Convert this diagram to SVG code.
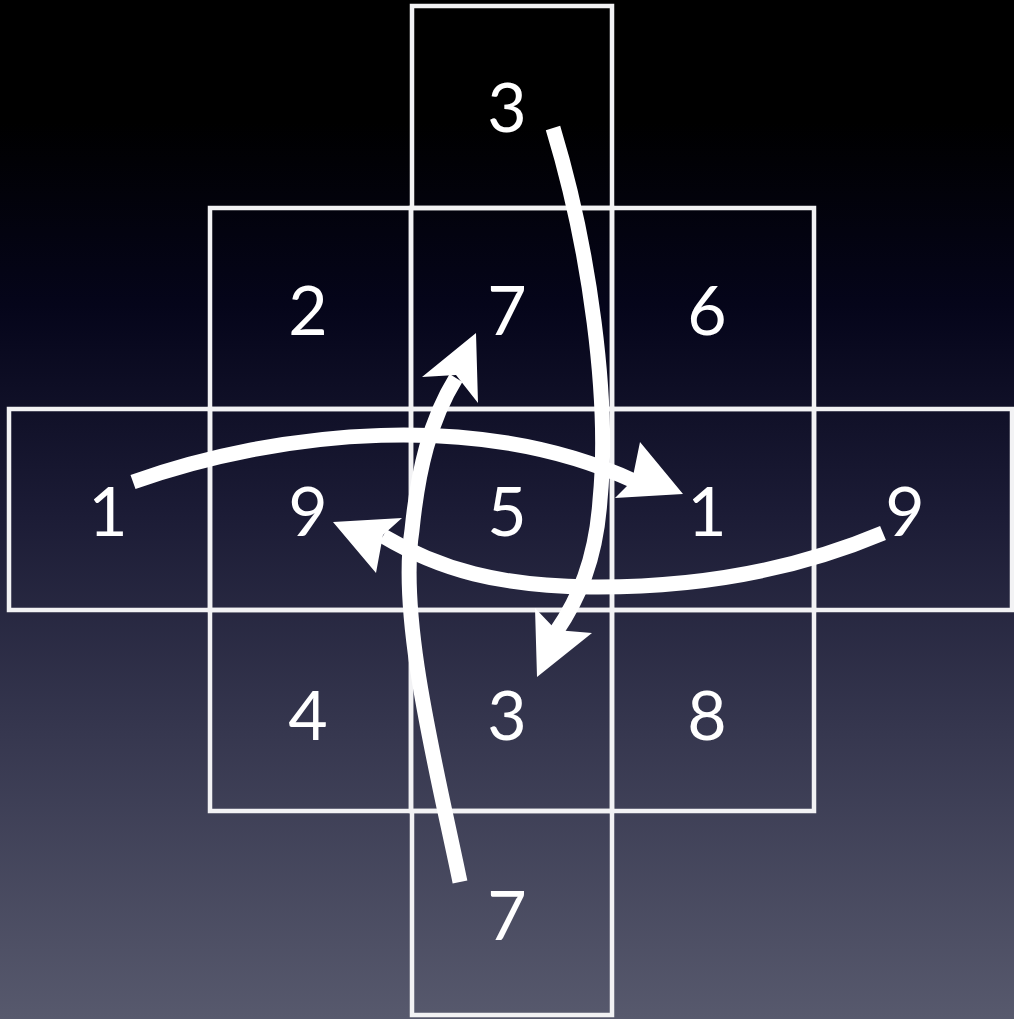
<svg xmlns="http://www.w3.org/2000/svg" width="1014" height="1019" viewBox="0 0 1014 1019">
  <defs>
    <linearGradient id="bg" x1="0" y1="0" x2="0" y2="1">
      <stop offset="0" stop-color="#000000"/>
      <stop offset="0.12" stop-color="#000000"/>
      <stop offset="0.3" stop-color="#05051a"/>
      <stop offset="0.5" stop-color="#1b1b35"/>
      <stop offset="0.72" stop-color="#36374f"/>
      <stop offset="1" stop-color="#57596d"/>
    </linearGradient>
    <style>
      .cell { fill: none; stroke: #f2f2f4; stroke-width: 4.5; }
      .num { font-family: Lato, "Open Sans", "Liberation Sans", sans-serif; font-size: 68px; fill: #ffffff; text-anchor: middle; }
      .shaft { fill: none; stroke: #ffffff; stroke-width: 15; stroke-linecap: butt; }
      .head { fill: #ffffff; stroke: none; }
    </style>
  </defs>
  <rect x="0" y="0" width="1014" height="1019" fill="url(#bg)"/>

  <g id="grid">
    <g id="cell-top"><rect class="cell" x="412" y="6" width="200" height="202"/><text class="num" x="507" y="132">3</text></g>
    <g id="cell-r2c1"><rect class="cell" x="210" y="208" width="201" height="201"/><text class="num" x="308" y="335">2</text></g>
    <g id="cell-r2c2"><rect class="cell" x="411" y="208" width="201" height="201"/><text class="num" x="507" y="335">7</text></g>
    <g id="cell-r2c3"><rect class="cell" x="612" y="208" width="202" height="201"/><text class="num" x="707" y="335">6</text></g>
    <g id="cell-r3c0"><rect class="cell" x="9" y="409" width="201" height="201"/><text class="num" x="108" y="536">1</text></g>
    <g id="cell-r3c1"><rect class="cell" x="210" y="409" width="201" height="201"/><text class="num" x="308" y="536">9</text></g>
    <g id="cell-r3c2"><rect class="cell" x="411" y="409" width="201" height="201"/><text class="num" x="507" y="536">5</text></g>
    <g id="cell-r3c3"><rect class="cell" x="612" y="409" width="202" height="201"/><text class="num" x="707" y="536">1</text></g>
    <g id="cell-r3c4"><rect class="cell" x="814" y="409" width="198" height="201"/><text class="num" x="905" y="536">9</text></g>
    <g id="cell-r4c1"><rect class="cell" x="210" y="610" width="201" height="201"/><text class="num" x="308" y="740">4</text></g>
    <g id="cell-r4c2"><rect class="cell" x="411" y="610" width="201" height="201"/><text class="num" x="507" y="740">3</text></g>
    <g id="cell-r4c3"><rect class="cell" x="612" y="610" width="202" height="201"/><text class="num" x="707" y="740">8</text></g>
    <g id="cell-bottom"><rect class="cell" x="412" y="811" width="200" height="204"/><text class="num" x="507" y="940">7</text></g>
  </g>

  <g id="connectors">
    <path class="shaft" d="M553,128 C590,250 610,400 600,500 C596,560 578,600 556,632"/>
    <polygon class="head" points="537,677 535,608 556,630 592,633"/>
    <path class="shaft" d="M460,882 C437,770 398,620 412,530 C418,470 430,420 456,378"/>
    <polygon class="head" points="476,333 422,377 456,375 478,403"/>
    <path class="shaft" d="M133,482 C280,430 480,410 634,481"/>
    <polygon class="head" points="683,494 640,442 632,481 615,498"/>
    <path class="shaft" d="M883,533 C800,568 700,588 590,587 C500,586 440,570 383,536"/>
    <polygon class="head" points="333,522 402,518 383,535 376,573"/>
  </g>
</svg>
